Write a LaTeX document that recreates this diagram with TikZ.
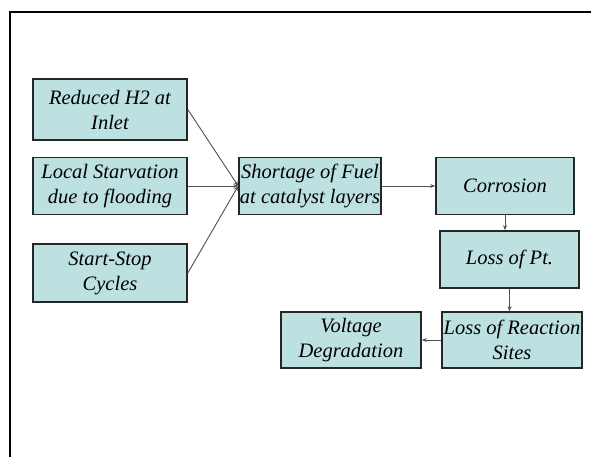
\documentclass[tikz,border=0pt]{standalone}
\usepackage{fontspec}
\setmainfont{Liberation Serif}
\usetikzlibrary{arrows.meta}
\definecolor{boxfill}{HTML}{BDE0E0}
\definecolor{linegray}{HTML}{505050}
\tikzset{
  flowbox/.style={draw=black!85, line width=1.6pt, fill=boxfill, rectangle, align=center, inner sep=0pt,
    font=\fontsize{20.5}{25}\selectfont\itshape},
  conn/.style={draw=linegray, line width=0.9pt, -{Stealth[length=5pt,width=4pt]}}
}
\begin{document}
\begin{tikzpicture}[x=1pt,y=-1pt]
\useasboundingbox (0,0) rectangle (591,457);
\fill[white] (0,0) rectangle (591,457);
\draw[line width=2pt] (10,457) -- (10,12) -- (591,12);
\node[flowbox, minimum width=154, minimum height=61] (red) at (110,109.5) {Reduced H2 at\\Inlet};
\node[flowbox, minimum width=154, minimum height=57] (loc) at (110,186) {Local Starvation\\due to flooding};
\node[flowbox, minimum width=154, minimum height=58] (sta) at (110,273) {Start-Stop\\Cycles};
\node[flowbox, minimum width=142, minimum height=57] (sho) at (310,186) {Shortage of Fuel\\at catalyst layers};
\node[flowbox, minimum width=138, minimum height=57] (cor) at (505,186) {Corrosion};
\node[flowbox, minimum width=139, minimum height=57] (pt) at (509.5,259.5) {Loss of Pt.};
\node[flowbox, minimum width=140, minimum height=56] (rea) at (512,340) {Loss of Reaction\\Sites};
\node[flowbox, minimum width=140, minimum height=56] (vol) at (351,340) {Voltage\\Degradation};
\draw[conn] (red.east) -- (sho.west);
\draw[conn] (loc.east) -- (sho.west);
\draw[conn] (sta.east) -- (sho.west);
\draw[conn] (sho.east) -- (cor.west);
\draw[conn] (cor.south) -- (cor.south |- pt.north);
\draw[conn] (pt.south) -- (pt.south |- rea.north);
\draw[conn] (rea.west) -- (vol.east);
\end{tikzpicture}
\end{document}
